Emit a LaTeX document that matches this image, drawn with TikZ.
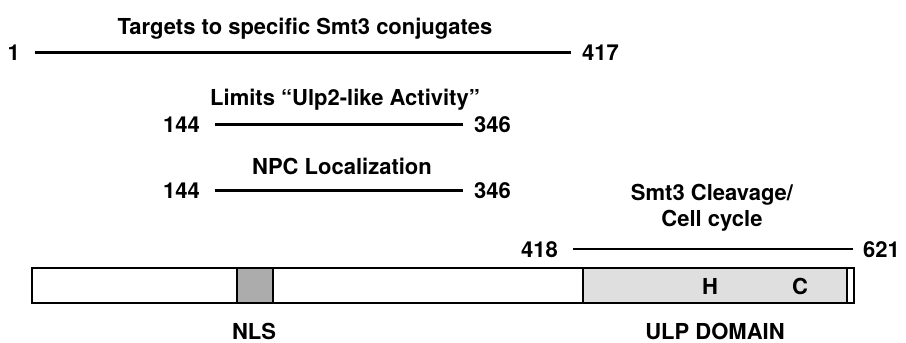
\documentclass[tikz,border=0pt]{standalone}
\usepackage{fontspec}
\setmainfont{TeX Gyre Heros}
\usetikzlibrary{positioning}

\begin{document}
\begin{tikzpicture}[x=1pt, y=-1pt,
    lbl/.style={font=\bfseries\fontsize{22}{26}\selectfont, inner sep=0pt, align=center},
    span/.style={line width=2.8pt, shorten <=15pt, shorten >=11pt},
    thinspan/.style={line width=1.6pt, shorten <=15pt, shorten >=10pt}]
    \useasboundingbox (0,0) rectangle (906,343);

    % Targets to conjugates
    \node[lbl, anchor=base] (tgt) at (305,34) {Targets to specific Smt3 conjugates};
    \node[lbl, anchor=base east] (s1) at (20,60) {1};
    \node[lbl, anchor=base west] (e417) at (582,60) {417};
    \draw[span] (s1.east) -- (e417.west |- s1.east);

    % Ulp2-like activity
    \node[lbl, anchor=base] (lim) at (345,105) {Limits ``Ulp2-like Activity''};
    \node[lbl, anchor=base east] (s144a) at (200,132) {144};
    \node[lbl, anchor=base west] (e346a) at (474,132) {346};
    \draw[span] (s144a.east) -- (e346a.west |- s144a.east);

    % NPC
    \node[lbl, anchor=base] (npc) at (342,174) {NPC Localization};
    \node[lbl, anchor=base east] (s144b) at (200,198) {144};
    \node[lbl, anchor=base west] (e346b) at (474,198) {346};
    \draw[span] (s144b.east) -- (e346b.west |- s144b.east);

    % Cleavage
    \node[lbl, anchor=base] (clv) at (712,200) {Smt3 Cleavage/};
    \node[lbl, anchor=base] (cyc) at (712,226) {Cell cycle};
    \node[lbl, anchor=base east] (s418) at (558,257) {418};
    \node[lbl, anchor=base west] (e621) at (863,257) {621};
    \draw[thinspan] (s418.east) -- (e621.west |- s418.east);

    % Protein bar
    \fill[gray!65] (237,268) rectangle (273,303);
    \fill[gray!25] (583,268) rectangle (847,303);
    \draw[line width=1.8pt] (237,268) -- (237,303) (273,268) -- (273,303)
        (583,268) -- (583,303);
    \draw[line width=1.2pt] (847,268) -- (847,303);
    \draw[line width=2.6pt] (32,268) rectangle (854,303);
    \node[lbl, anchor=base] (his) at (710,294) {H};
    \node[lbl, anchor=base] (cys) at (800,294) {C};

    % Domain labels
    \node[lbl, anchor=base] (nls) at (254,339) {NLS};
    \node[lbl, anchor=base] (ulp) at (715,339) {ULP DOMAIN};
\end{tikzpicture}
\end{document}
